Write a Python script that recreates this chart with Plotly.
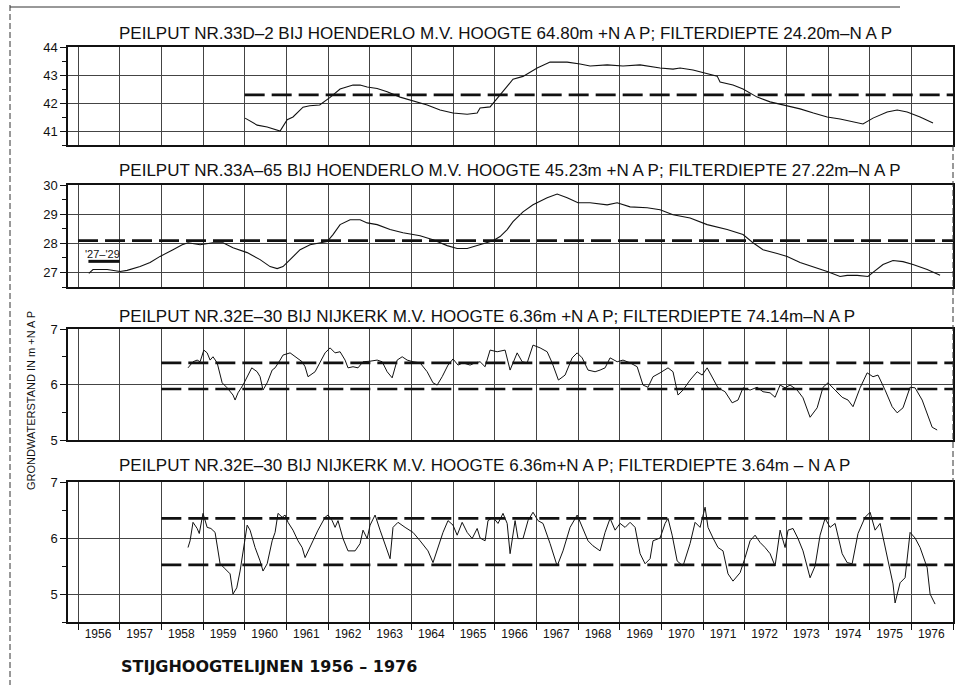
import plotly.graph_objects as go

# ---------------- data ----------------
axis_years = list(range(1956, 1977))
axis_labels = [str(y) for y in axis_years]

p1_title = "PEILPUT NR.33D–2 BIJ HOENDERLO M.V. HOOGTE 64.80m +N A P; FILTERDIEPTE 24.20m–N A P"
p2_title = "PEILPUT NR.33A–65 BIJ HOENDERLO M.V. HOOGTE 45.23m +N A P; FILTERDIEPTE 27.22m–N A P"
p3_title = "PEILPUT NR.32E–30 BIJ NIJKERK M.V. HOOGTE 6.36m +N A P; FILTERDIEPTE 74.14m–N A P"
p4_title = "PEILPUT NR.32E–30 BIJ NIJKERK M.V. HOOGTE 6.36m+N A P; FILTERDIEPTE 3.64m – N A P"

p1_year = [1960.01, 1960.30, 1960.54, 1960.85, 1961.02, 1961.16, 1961.40, 1961.56, 1961.80, 1962.05,
           1962.29, 1962.60, 1962.77, 1962.94, 1963.18, 1963.42, 1963.73, 1964.04, 1964.38, 1964.69,
           1965.00, 1965.34, 1965.58, 1965.65, 1965.89, 1966.13, 1966.44, 1966.68, 1967.02, 1967.33,
           1967.74, 1968.05, 1968.29, 1968.70, 1969.08, 1969.49, 1969.97, 1970.28, 1970.45, 1970.76,
           1971.10, 1971.34, 1971.41, 1971.72, 1971.96, 1972.30, 1972.61, 1973.02, 1973.33, 1973.65,
           1973.98, 1974.29, 1974.60, 1974.84, 1975.08, 1975.42, 1975.66, 1975.90, 1976.21, 1976.52]
p1_level = [41.46, 41.21, 41.14, 41.00, 41.40, 41.50, 41.85, 41.90, 41.93, 42.20,
            42.50, 42.64, 42.64, 42.57, 42.52, 42.40, 42.21, 42.07, 41.93, 41.75,
            41.64, 41.60, 41.64, 41.82, 41.86, 42.29, 42.85, 42.95, 43.25, 43.46,
            43.46, 43.39, 43.32, 43.36, 43.32, 43.36, 43.25, 43.21, 43.25, 43.18,
            43.04, 42.96, 42.75, 42.64, 42.50, 42.21, 42.04, 41.89, 41.79, 41.64,
            41.50, 41.43, 41.32, 41.25, 41.46, 41.68, 41.75, 41.68, 41.50, 41.29]
p1_mean_year = [1960.0, 1977.0]
p1_mean = [42.29, 42.29]

p2_year = [1956.26, 1956.36, 1956.70, 1957.01, 1957.18, 1957.49, 1957.73, 1957.97, 1958.28, 1958.50,
           1958.64, 1958.93, 1959.24, 1959.48, 1959.72, 1960.06, 1960.37, 1960.61, 1960.78, 1960.92,
           1961.09, 1961.33, 1961.57, 1961.81, 1961.98, 1962.12, 1962.29, 1962.53, 1962.77, 1962.94,
           1963.18, 1963.49, 1963.80, 1964.21, 1964.52, 1964.86, 1965.10, 1965.34, 1965.65, 1965.96,
           1966.13, 1966.30, 1966.44, 1966.56, 1966.68, 1966.92, 1967.26, 1967.50, 1967.74, 1968.00,
           1968.29, 1968.70, 1968.94, 1969.25, 1969.66, 1969.97, 1970.28, 1970.69, 1971.10, 1971.58,
           1971.96, 1972.20, 1972.44, 1972.78, 1973.02, 1973.33, 1973.65, 1973.98, 1974.29, 1974.46,
           1974.70, 1974.96, 1975.08, 1975.32, 1975.56, 1975.80, 1976.04, 1976.38, 1976.69]
p2_level = [26.97, 27.10, 27.10, 27.03, 27.07, 27.20, 27.34, 27.55, 27.78, 27.95,
            28.02, 27.95, 28.02, 28.02, 27.85, 27.68, 27.44, 27.20, 27.13, 27.20,
            27.44, 27.78, 27.95, 28.02, 28.06, 28.30, 28.64, 28.81, 28.81, 28.70,
            28.64, 28.47, 28.36, 28.26, 28.12, 27.92, 27.82, 27.82, 27.95, 28.09,
            28.23, 28.47, 28.74, 28.91, 29.08, 29.32, 29.56, 29.69, 29.56, 29.39,
            29.39, 29.32, 29.39, 29.25, 29.22, 29.15, 28.98, 28.87, 28.64, 28.47,
            28.30, 28.02, 27.78, 27.65, 27.55, 27.34, 27.20, 27.03, 26.86, 26.90,
            26.90, 26.86, 27.00, 27.27, 27.41, 27.37, 27.27, 27.10, 26.90]
p2_mean_year = [1956.0, 1977.0]
p2_mean = [28.09, 28.09]
p2_ref_year = [1956.25, 1957.0]
p2_ref = [27.38, 27.38]
p2_ref_label = "'27–'29"

p3_year = [1958.64, 1958.76, 1958.86, 1958.93, 1959.02, 1959.10, 1959.17, 1959.24, 1959.34, 1959.46,
           1959.58, 1959.72, 1959.77, 1959.84, 1959.96, 1960.08, 1960.17, 1960.30, 1960.37, 1960.44,
           1960.54, 1960.66, 1960.73, 1960.85, 1960.92, 1961.09, 1961.26, 1961.38, 1961.45, 1961.52,
           1961.69, 1961.81, 1961.93, 1962.05, 1962.17, 1962.29, 1962.41, 1962.48, 1962.60, 1962.72,
           1962.84, 1963.01, 1963.18, 1963.30, 1963.42, 1963.54, 1963.66, 1963.78, 1963.90, 1964.04,
           1964.21, 1964.38, 1964.52, 1964.62, 1964.74, 1964.88, 1965.00, 1965.12, 1965.24, 1965.41,
           1965.53, 1965.65, 1965.77, 1965.89, 1966.06, 1966.25, 1966.37, 1966.54, 1966.66, 1966.78,
           1966.92, 1967.09, 1967.26, 1967.38, 1967.53, 1967.69, 1967.86, 1967.98, 1968.10, 1968.24,
           1968.41, 1968.53, 1968.65, 1968.77, 1968.94, 1969.08, 1969.25, 1969.42, 1969.56, 1969.68,
           1969.80, 1969.97, 1970.16, 1970.28, 1970.40, 1970.52, 1970.69, 1970.86, 1970.98, 1971.10,
           1971.22, 1971.36, 1971.53, 1971.70, 1971.84, 1971.96, 1972.13, 1972.30, 1972.44, 1972.61,
           1972.73, 1972.85, 1972.97, 1973.09, 1973.26, 1973.40, 1973.57, 1973.74, 1973.88, 1974.00,
           1974.17, 1974.34, 1974.48, 1974.60, 1974.77, 1974.94, 1975.08, 1975.20, 1975.37, 1975.54,
           1975.66, 1975.80, 1975.97, 1976.09, 1976.26, 1976.38, 1976.50, 1976.62]
p3_level = [6.30, 6.41, 6.44, 6.41, 6.62, 6.57, 6.44, 6.50, 6.39, 6.03,
            5.94, 5.81, 5.72, 5.85, 5.99, 6.17, 6.30, 6.23, 6.14, 5.90,
            6.03, 6.26, 6.30, 6.44, 6.53, 6.57, 6.48, 6.41, 6.32, 6.14,
            6.23, 6.41, 6.57, 6.66, 6.57, 6.59, 6.44, 6.30, 6.32, 6.30,
            6.41, 6.42, 6.44, 6.41, 6.23, 6.12, 6.44, 6.50, 6.44, 6.41,
            6.39, 6.23, 6.03, 5.99, 6.14, 6.35, 6.46, 6.35, 6.39, 6.35,
            6.39, 6.41, 6.32, 6.62, 6.59, 6.62, 6.26, 6.57, 6.41, 6.39,
            6.71, 6.66, 6.59, 6.39, 6.08, 6.17, 6.48, 6.57, 6.48, 6.26,
            6.23, 6.26, 6.30, 6.48, 6.41, 6.44, 6.39, 6.32, 5.99, 5.95,
            6.14, 6.21, 6.30, 6.23, 5.81, 5.90, 6.08, 6.23, 6.17, 6.30,
            6.12, 5.94, 5.87, 5.67, 5.72, 5.94, 5.90, 5.95, 5.87, 5.85,
            5.77, 5.99, 5.94, 5.99, 5.90, 5.76, 5.41, 5.58, 5.95, 6.03,
            5.90, 5.77, 5.72, 5.60, 5.94, 6.21, 6.14, 6.17, 5.90, 5.60,
            5.49, 5.58, 5.95, 5.94, 5.72, 5.49, 5.23, 5.18]
p3_mean_year = [1958.0, 1977.0]
p3_mean_high = [6.39, 6.39]
p3_mean_low = [5.92, 5.92]

p4_year = [1958.64, 1958.69, 1958.76, 1958.86, 1958.91, 1959.00, 1959.10, 1959.19, 1959.29, 1959.41,
           1959.53, 1959.65, 1959.72, 1959.81, 1959.89, 1959.96, 1960.06, 1960.13, 1960.25, 1960.37,
           1960.44, 1960.54, 1960.66, 1960.73, 1960.80, 1960.90, 1960.97, 1961.04, 1961.16, 1961.28,
           1961.38, 1961.45, 1961.52, 1961.64, 1961.76, 1961.86, 1961.93, 1962.00, 1962.10, 1962.17,
           1962.24, 1962.36, 1962.48, 1962.65, 1962.77, 1962.84, 1962.94, 1963.01, 1963.13, 1963.25,
           1963.37, 1963.49, 1963.56, 1963.68, 1963.85, 1964.04, 1964.21, 1964.40, 1964.52, 1964.64,
           1964.76, 1964.88, 1965.00, 1965.10, 1965.22, 1965.34, 1965.46, 1965.58, 1965.65, 1965.77,
           1965.84, 1965.96, 1966.08, 1966.20, 1966.30, 1966.37, 1966.49, 1966.56, 1966.68, 1966.80,
           1966.92, 1967.04, 1967.16, 1967.33, 1967.50, 1967.64, 1967.81, 1967.98, 1968.10, 1968.24,
           1968.36, 1968.53, 1968.65, 1968.77, 1968.89, 1969.01, 1969.13, 1969.25, 1969.37, 1969.49,
           1969.61, 1969.73, 1969.80, 1969.97, 1970.09, 1970.16, 1970.26, 1970.38, 1970.52, 1970.69,
           1970.81, 1970.93, 1971.05, 1971.12, 1971.24, 1971.36, 1971.48, 1971.60, 1971.72, 1971.89,
           1972.01, 1972.13, 1972.25, 1972.37, 1972.49, 1972.61, 1972.73, 1972.85, 1972.97, 1973.04,
           1973.16, 1973.28, 1973.40, 1973.57, 1973.69, 1973.81, 1973.93, 1974.05, 1974.17, 1974.34,
           1974.46, 1974.58, 1974.72, 1974.89, 1975.01, 1975.13, 1975.25, 1975.42, 1975.56, 1975.61,
           1975.73, 1975.85, 1975.97, 1976.09, 1976.21, 1976.38, 1976.45, 1976.57]
p4_level = [5.83, 5.95, 6.28, 6.17, 6.08, 6.44, 6.19, 6.17, 6.10, 5.54,
            5.45, 5.36, 5.00, 5.11, 5.41, 5.77, 6.23, 6.14, 5.83, 5.59,
            5.41, 5.54, 5.95, 6.10, 6.44, 6.37, 6.41, 6.28, 6.14, 5.95,
            5.83, 5.65, 5.77, 5.95, 6.14, 6.28, 6.37, 6.41, 6.31, 6.19,
            6.31, 5.99, 5.77, 5.77, 5.90, 6.14, 5.99, 6.23, 6.41, 6.14,
            5.90, 5.63, 6.19, 6.28, 6.19, 6.10, 5.95, 5.77, 5.56, 5.83,
            6.10, 6.31, 6.23, 6.05, 6.28, 6.10, 5.99, 6.17, 6.00, 5.95,
            6.31, 6.37, 6.26, 6.44, 6.26, 5.72, 6.31, 5.99, 5.99, 6.31,
            6.46, 6.31, 6.26, 5.90, 5.50, 5.77, 6.19, 6.41, 6.19, 5.95,
            5.86, 5.77, 6.10, 6.35, 6.14, 6.26, 6.19, 6.28, 6.19, 5.72,
            5.54, 5.63, 5.95, 6.00, 6.26, 6.35, 6.05, 5.59, 5.50, 5.90,
            6.28, 6.19, 6.55, 6.19, 6.00, 5.83, 5.77, 5.36, 5.23, 5.38,
            5.65, 5.95, 6.05, 5.92, 5.83, 5.72, 5.50, 6.14, 5.83, 6.14,
            6.17, 5.99, 5.77, 5.29, 5.50, 6.05, 6.35, 6.19, 6.26, 5.72,
            5.56, 5.54, 6.08, 6.37, 6.46, 6.14, 6.26, 5.65, 5.18, 4.84,
            5.20, 5.29, 6.10, 6.00, 5.83, 5.47, 5.00, 4.82]
p4_mean_year = [1958.0, 1977.0]
p4_mean_high = [6.35, 6.35]
p4_mean_low = [5.52, 5.52]

y_title = "GRONDWATERSTAND IN m +N A P"
caption = "STIJGHOOGTELIJNEN 1956 – 1976"

# ---------------- layout geometry ----------------
W, H = 957, 687
L, R = 68, 953
def px_x(p):
    return (p - L) / (R - L)
def px_y(p):
    return 1 - p / H

panel_px = [(47, 145), (185, 287), (329, 440), (482, 622)]
y_ranges = [[40.5, 44], [26.5, 30], [5, 7], [4.5, 7]]
y_ticks = [[41, 42, 43, 44], [27, 28, 29, 30], [5, 6, 7], [5, 6, 7]]
titles = [p1_title, p2_title, p3_title, p4_title]
title_px_y = [33, 170, 316, 466]

FONT = "Liberation Sans"
INK = "#111111"
GRID = "#444444"
dash_style = "20px,7px"

fig = go.Figure()

def line(x, y, n, width=1.0, dash=None):
    fig.add_trace(go.Scatter(
        x=x, y=y, mode="lines", xaxis="x" + ("" if n == 1 else str(n)),
        yaxis="y" + ("" if n == 1 else str(n)),
        line=dict(color=INK, width=width, dash=dash), showlegend=False, hoverinfo="skip"))

line(p1_mean_year, p1_mean, 1, 2.6, dash_style)
line(p1_year, p1_level, 1, 1.1)
line(p2_mean_year, p2_mean, 2, 2.6, dash_style)
line(p2_ref_year, p2_ref, 2, 3.0)
line(p2_year, p2_level, 2, 1.1)
line(p3_mean_year, p3_mean_high, 3, 2.6, dash_style)
line(p3_mean_year, p3_mean_low, 3, 2.6, dash_style)
line(p3_year, p3_level, 3, 1.0)
line(p4_mean_year, p4_mean_high, 4, 2.6, dash_style)
line(p4_mean_year, p4_mean_low, 4, 2.6, dash_style)
line(p4_year, p4_level, 4, 1.0)

layout = dict(
    width=W, height=H, margin=dict(l=L, r=W - R, t=0, b=0),
    paper_bgcolor="white", plot_bgcolor="white", template="none",
    font=dict(family=FONT, color=INK), showlegend=False,
)

for i in range(4):
    n = i + 1
    xa = "xaxis" + ("" if n == 1 else str(n))
    ya = "yaxis" + ("" if n == 1 else str(n))
    top, bot = panel_px[i]
    last = (n == 4)
    layout[xa] = dict(
        domain=[0, 1], anchor="y" + ("" if n == 1 else str(n)),
        range=[1955.76, 1977.0], showline=True, linecolor=INK, linewidth=1.5, mirror=True,
        showgrid=False, zeroline=False,
        tickmode="array",
        tickvals=[yr + 0.48 for yr in axis_years] if last else [],
        ticktext=axis_labels if last else [],
        ticks="", tickfont=dict(size=12, family=FONT), automargin=False,
        minor=dict(tickmode="array", tickvals=list(range(1956, 1978)),
                   showgrid=True, gridcolor=GRID, gridwidth=1,
                   ticks="outside" if last else "", ticklen=6, tickcolor=INK),
    )
    layout[ya] = dict(
        domain=[px_y(bot), px_y(top)], anchor="x" + ("" if n == 1 else str(n)),
        range=y_ranges[i], showline=True, linecolor=INK, linewidth=1.5, mirror=True,
        tickmode="array", tickvals=y_ticks[i], ticks="outside", ticklen=6, tickcolor=INK,
        tickfont=dict(size=13, family=FONT), showgrid=True, gridcolor=GRID, gridwidth=1,
        zeroline=False, automargin=False,
        minor=dict(dtick=0.5, ticks="outside", ticklen=4, tickcolor=INK, showgrid=False),
    )

annotations = []
for i in range(4):
    annotations.append(dict(
        text=titles[i], xref="paper", yref="paper", x=px_x(117), y=px_y(title_px_y[i]),
        xanchor="left", yanchor="middle", showarrow=False,
        font=dict(size=17, family=FONT, color=INK)))
annotations.append(dict(
    text=p2_ref_label, xref="x2", yref="y2", x=1956.12, y=27.62, xanchor="left", yanchor="middle",
    showarrow=False, font=dict(size=11, family=FONT, color=INK)))
annotations.append(dict(
    text=y_title, xref="paper", yref="paper", x=px_x(31), y=px_y(401), textangle=-90,
    xanchor="center", yanchor="middle", showarrow=False,
    font=dict(size=11, family=FONT, color=INK)))
annotations.append(dict(
    text="<b>" + caption + "</b>", xref="paper", yref="paper", x=px_x(119), y=px_y(666),
    xanchor="left", yanchor="middle", showarrow=False,
    font=dict(size=16, family="DejaVu Sans", color=INK)))
layout["annotations"] = annotations

# page border of the scanned sheet
layout["shapes"] = [
    dict(type="line", xref="paper", yref="paper", x0=px_x(10), x1=px_x(10), y0=px_y(5), y1=px_y(685),
         line=dict(color="#333333", width=1, dash="6px,3px")),
    dict(type="line", xref="paper", yref="paper", x0=px_x(10), x1=px_x(900), y0=px_y(7), y1=px_y(7),
         line=dict(color="#333333", width=1)),
    dict(type="line", xref="paper", yref="paper", x0=1, x1=1, y0=px_y(145), y1=px_y(482),
         line=dict(color="#333333", width=1, dash="6px,3px")),
]

fig.update_layout(**layout)
fig.write_html("out.html")
